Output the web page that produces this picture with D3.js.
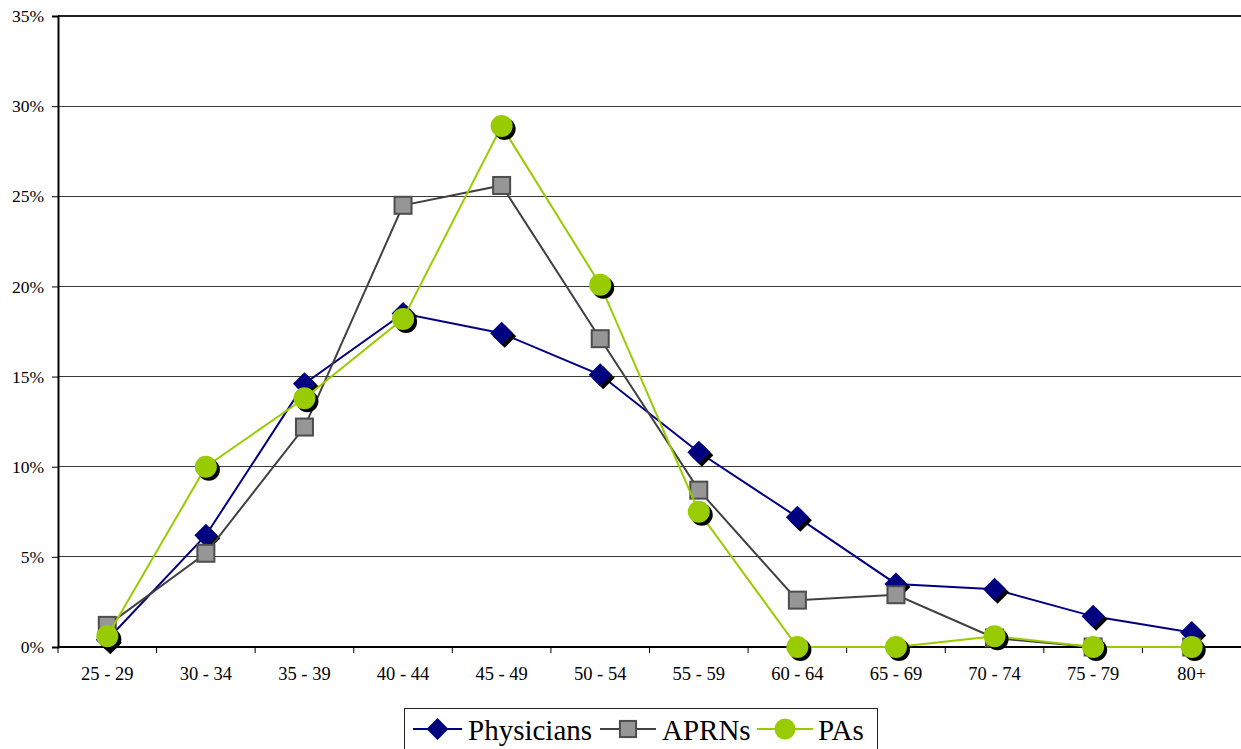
<!DOCTYPE html>
<html>
<head>
<meta charset="utf-8">
<script src="https://cdn.jsdelivr.net/npm/d3@7/dist/d3.min.js"></script>
<style>
  html, body { margin: 0; padding: 0; background: #fff; }
  svg { display: block; }
  text { font-family: "Liberation Serif", "Times New Roman", serif; fill: #000; }
</style>
</head>
<body>
<svg id="chart" width="1241" height="749"></svg>
<script>
// Age groups on the x axis
const ageGroups = ["25 - 29", "30 - 34", "35 - 39", "40 - 44", "45 - 49", "50 - 54",
                   "55 - 59", "60 - 64", "65 - 69", "70 - 74", "75 - 79", "80+"];

// Share of each workforce in every age group (%)
const physicians = [0.4, 6.2, 14.6, 18.5, 17.4, 15.1, 10.8, 7.2, 3.5, 3.2, 1.7, 0.8];
const aprns      = [1.2, 5.2, 12.2, 24.5, 25.6, 17.1, 8.7, 2.6, 2.9, 0.5, 0.0, 0.0];
const pas        = [0.6, 10.0, 13.8, 18.2, 28.9, 20.1, 7.5, 0.0, 0.0, 0.6, 0.0, 0.0];

const yTicks = [0, 5, 10, 15, 20, 25, 30, 35];
const seriesNames = ["Physicians", "APRNs", "PAs"];

const series = [
  { name: seriesNames[0], values: physicians, line: "#000080", shape: "diamond", fill: "#000080", stroke: "none", shadow: true },
  { name: seriesNames[1], values: aprns,      line: "#404040", shape: "square",  fill: "#969696", stroke: "#4d4d4d", shadow: false },
  { name: seriesNames[2], values: pas,        line: "#99cc00", shape: "circle",  fill: "#99cc00", stroke: "none", shadow: true }
];

const svg = d3.select("#chart");
const plot = { left: 58, top: 16, right: 1241, bottom: 647 };

const x = d3.scaleBand().domain(ageGroups).range([plot.left, plot.right]);
const y = d3.scaleLinear().domain([0, 35]).range([plot.bottom, plot.top]);
const cx = d => x(d) + x.bandwidth() / 2;

// Horizontal gridlines
svg.append("g").selectAll("line")
  .data(yTicks.filter(t => t > 0))
  .join("line")
  .attr("x1", plot.left).attr("x2", plot.right)
  .attr("y1", d => y(d)).attr("y2", d => y(d))
  .attr("stroke", d => d === 35 ? "#222" : "#3a3a3a")
  .attr("stroke-width", d => d === 35 ? 2 : 1)
  .attr("shape-rendering", "crispEdges");

// Y axis
const yAxis = svg.append("g")
  .attr("transform", `translate(${plot.left},0)`)
  .call(d3.axisLeft(y).tickValues(yTicks).tickFormat(d => d + "%").tickSize(6).tickPadding(8));
yAxis.select(".domain").attr("stroke", "#000").attr("stroke-width", 2);
yAxis.selectAll(".tick line").attr("stroke", "#000").attr("stroke-width", 1);
yAxis.selectAll(".tick text")
  .style("font-family", "'Liberation Serif', 'Times New Roman', serif")
  .style("font-size", "17.5px").attr("fill", "#000");

// X axis: ticks sit between categories
const xAxisG = svg.append("g").attr("transform", `translate(0,${plot.bottom})`);
xAxisG.append("line")
  .attr("x1", plot.left).attr("x2", plot.right)
  .attr("y1", 0).attr("y2", 0)
  .attr("stroke", "#000").attr("stroke-width", 2);
xAxisG.selectAll("line.tick")
  .data(ageGroups)
  .join("line")
  .attr("class", "tick")
  .attr("x1", d => x(d)).attr("x2", d => x(d))
  .attr("y1", 0).attr("y2", 6)
  .attr("stroke", "#000").attr("stroke-width", 1);
xAxisG.selectAll("text")
  .data(ageGroups)
  .join("text")
  .attr("x", d => cx(d))
  .attr("y", 33)
  .attr("text-anchor", "middle")
  .style("font-size", "18.5px")
  .text(d => d);

// Marker drawing
function drawMarker(g, shape, px, py, fill, stroke, scale) {
  const s = scale || 1;
  if (shape === "diamond") {
    const r = 11.5 * s;
    g.append("path")
      .attr("d", `M${px},${py - r}L${px + r},${py}L${px},${py + r}L${px - r},${py}Z`)
      .attr("fill", fill);
  } else if (shape === "square") {
    const h = 8.5 * s;
    g.append("rect")
      .attr("x", px - h).attr("y", py - h)
      .attr("width", 2 * h).attr("height", 2 * h)
      .attr("fill", fill).attr("stroke", stroke).attr("stroke-width", 2);
  } else {
    g.append("circle")
      .attr("cx", px).attr("cy", py).attr("r", 11 * s)
      .attr("fill", fill);
  }
}

const line = d3.line().x(d => cx(d.cat)).y(d => y(d.v));

series.forEach(s => {
  const pts = ageGroups.map((cat, i) => ({ cat, v: s.values[i] }));
  const g = svg.append("g");
  g.append("path")
    .datum(pts)
    .attr("d", line)
    .attr("fill", "none")
    .attr("stroke", s.line)
    .attr("stroke-width", 2);
  pts.forEach(p => {
    const px = cx(p.cat), py = y(p.v);
    if (s.shadow) drawMarker(g, s.shape, px + 3, py + 3, "#000", "none");
    drawMarker(g, s.shape, px, py, s.fill, s.stroke);
  });
});

// Legend
const legend = svg.append("g");
legend.append("rect")
  .attr("x", 404.5).attr("y", 708.5)
  .attr("width", 473).attr("height", 60)
  .attr("fill", "#fff").attr("stroke", "#222").attr("stroke-width", 1);

const legendItems = [
  { s: series[0], x0: 413, x1: 462, tx: 468 },
  { s: series[1], x0: 600, x1: 656, tx: 662 },
  { s: series[2], x0: 757, x1: 813, tx: 818 }
];
const ly = 729;
legendItems.forEach(it => {
  legend.append("line")
    .attr("x1", it.x0).attr("x2", it.x1)
    .attr("y1", ly).attr("y2", ly)
    .attr("stroke", it.s.line).attr("stroke-width", 2);
  drawMarker(legend, it.s.shape, (it.x0 + it.x1) / 2, ly, it.s.fill, it.s.stroke, 0.95);
  legend.append("text")
    .attr("x", it.tx).attr("y", ly + 11)
    .style("font-size", "29px")
    .text(it.s.name);
});
</script>
</body>
</html>
